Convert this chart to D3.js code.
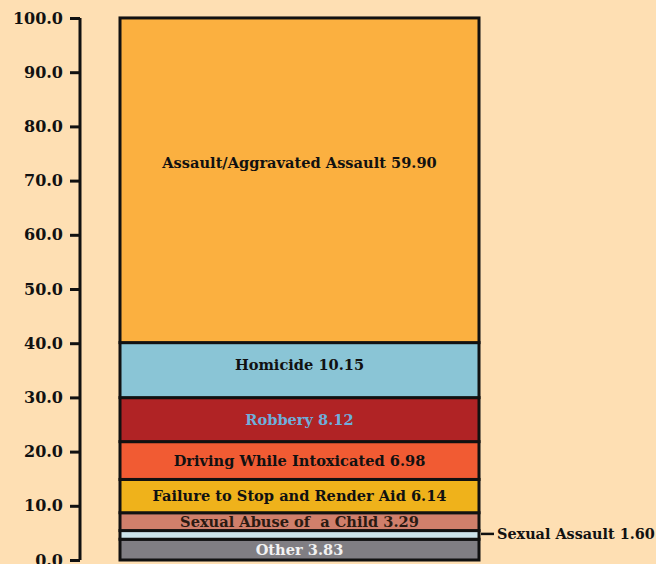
<!DOCTYPE html>
<html>
<head>
<meta charset="utf-8">
<script src="https://cdn.jsdelivr.net/npm/d3@7"></script>
<style>
  html, body { margin: 0; padding: 0; background: #FEDFB3; }
  svg { display: block; }
</style>
</head>
<body>
<svg id="chart" width="656" height="564"></svg>
<script>
// Data (bottom to top)
const categories = ["Other", "Sexual Assault", "Sexual Abuse of  a Child", "Failure to Stop and Render Aid", "Driving While Intoxicated", "Robbery", "Homicide", "Assault/Aggravated Assault"];
const values = [3.83, 1.60, 3.29, 6.14, 6.98, 8.12, 10.15, 59.90];
const valueLabels = ["3.83", "1.60", "3.29", "6.14", "6.98", "8.12", "10.15", "59.90"];
const colors = ["#807E83", "#CCE3EA", "#D07F6B", "#EFB21B", "#F15B33", "#B02325", "#8AC5D6", "#FBB040"];
const labelColors = ["#F2F2F2", "#111111", "#2a1a12", "#111111", "#111111", "#6FAEDB", "#111111", "#111111"];
const tickValues = [0, 10, 20, 30, 40, 50, 60, 70, 80, 90, 100];

const svg = d3.select("#chart");
const font = "'DejaVu Serif', 'Liberation Serif', serif";

const y = d3.scaleLinear().domain([0, 100]).range([560, 18]);
const x = d3.scaleBand().domain(["total"]).range([120, 479]).padding(0);

// Stack
let cum = 0;
const segs = values.map((v, i) => {
  const s = { name: categories[i], v, lab: valueLabels[i], y0: cum, y1: cum + v, color: colors[i], lc: labelColors[i] };
  cum += v;
  return s;
});

// Axis
const axis = d3.axisLeft(y).tickValues(tickValues).tickFormat(d3.format(".1f")).tickSize(10).tickPadding(7);
const ax = svg.append("g").attr("transform", "translate(80,0)").call(axis);
ax.select(".domain").attr("stroke", "#111").attr("stroke-width", 3).attr("d", `M0,${y(100)}V${y(0)}`);
ax.selectAll(".tick line").attr("stroke", "#111").attr("stroke-width", 3);
ax.selectAll(".tick text")
  .attr("font-family", font).attr("font-weight", "bold").attr("font-size", 16).attr("fill", "#111");

// Bars
svg.append("g").selectAll("rect").data(segs).join("rect")
  .attr("x", x("total"))
  .attr("width", x.bandwidth())
  .attr("y", d => y(d.y1))
  .attr("height", d => y(d.y0) - y(d.y1))
  .attr("fill", d => d.color)
  .attr("stroke", "#111")
  .attr("stroke-width", 3);

// Labels inside
const cx = x("total") + x.bandwidth() / 2;
svg.append("g").selectAll("text").data(segs.filter(d => d.name !== "Sexual Assault")).join("text")
  .attr("x", cx)
  .attr("y", d => (y(d.y0) + y(d.y1)) / 2 + (d.name.startsWith("Assault") ? -17 : 0) + (d.name === "Homicide" ? -5 : 0))
  .attr("dy", "0.35em")
  .attr("text-anchor", "middle")
  .attr("font-family", font).attr("font-weight", "bold").attr("font-size", 14.6)
  .attr("fill", d => d.lc)
  .style("white-space", "pre")
  .text(d => d.name + " " + d.lab);

// Sexual Assault callout
const sa = segs.find(d => d.name === "Sexual Assault");
const sy = (y(sa.y0) + y(sa.y1)) / 2 - 1;
svg.append("line").attr("x1", 481).attr("x2", 494).attr("y1", sy).attr("y2", sy)
  .attr("stroke", "#111").attr("stroke-width", 2.5);
svg.append("text").attr("x", 497).attr("y", sy).attr("dy", "0.35em")
  .attr("font-family", font).attr("font-weight", "bold").attr("font-size", 14.4).attr("fill", "#111")
  .text(sa.name + " " + sa.lab);
</script>
</body>
</html>
